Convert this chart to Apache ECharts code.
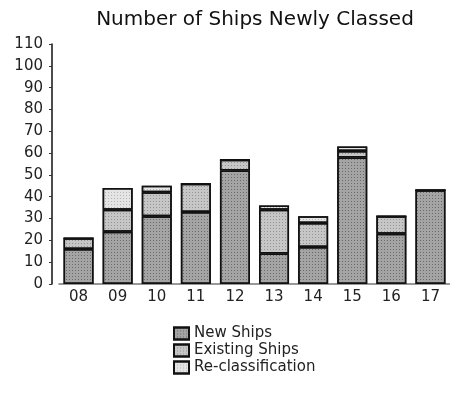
<!DOCTYPE html>
<html>
<head>
<meta charset="utf-8">
<script src="https://cdn.jsdelivr.net/npm/echarts@6/dist/echarts.min.js"></script>
<style>
  html, body { margin: 0; padding: 0; background: #fff; }
  #chart { width: 450px; height: 403px; }
</style>
</head>
<body>
<div id="chart"></div>
<script>
// fiscal years
var years = ["08", "09", "10", "11", "12", "13", "14", "15", "16", "17"];
// ship counts per segment
var newShips      = [16, 24, 31, 33, 52, 14, 17, 58, 23, 43];
var existingShips = [5, 10, 11, 13, 5, 20, 11, 3, 8, 0];
var reclassified  = [0, 10, 3, 0, 0, 2, 3, 2, 0, 0];
var yTicks = { min: 0, max: 110, interval: 10 };

var font = "DejaVu Sans";

var chart = echarts.init(document.getElementById("chart"));

function stipple(alpha) {
  return {
    symbol: "rect",
    symbolSize: 1,
    dashArrayX: [1, 2],
    dashArrayY: [1, 2],
    rotation: 0,
    color: "rgba(0,0,0," + alpha + ")"
  };
}

function barSeries(name, data, color, alpha) {
  return {
    name: name,
    type: "bar",
    stack: "total",
    barWidth: 30,
    data: data,
    itemStyle: {
      color: color,
      borderColor: "#111",
      borderWidth: 1.5,
      decal: stipple(alpha)
    }
  };
}

var option = {
  animation: false,
  title: {
    text: "Number of Ships Newly Classed",
    left: 250,
    textAlign: "center",
    top: 5,
    textStyle: { fontFamily: font, fontSize: 20, fontWeight: "normal", color: "#111" }
  },
  legend: {
    orient: "vertical",
    left: 168,
    top: 321,
    icon: "rect",
    itemWidth: 15,
    itemHeight: 12,
    itemGap: 2,
    textStyle: { fontFamily: font, fontSize: 15, color: "#222" },
    data: ["New Ships", "Existing Ships", "Re-classification"]
  },
  grid: { left: 59, right: 0, top: 44, bottom: 119 },
  xAxis: {
    type: "category",
    data: years,
    axisLine: { lineStyle: { color: "#777", width: 1.5 } },
    axisTick: { show: true, alignWithLabel: true, inside: true, length: 4, lineStyle: { color: "#555" } },
    axisLabel: { fontFamily: font, fontSize: 15, color: "#222", margin: 6 }
  },
  yAxis: {
    type: "value",
    min: yTicks.min,
    max: yTicks.max,
    interval: yTicks.interval,
    offset: 7,
    splitLine: { show: false },
    axisLine: { show: true, lineStyle: { color: "#111", width: 1.5 } },
    axisTick: { show: true, length: 3, lineStyle: { color: "#333" } },
    axisLabel: { fontFamily: font, fontSize: 15, color: "#222", margin: 9 }
  },
  series: [
    barSeries("New Ships", newShips, "#a4a4a4", 0.35),
    barSeries("Existing Ships", existingShips, "#c6c6c6", 0.25),
    barSeries("Re-classification", reclassified, "#e4e4e4", 0.2)
  ]
};

chart.setOption(option);
</script>
</body>
</html>
